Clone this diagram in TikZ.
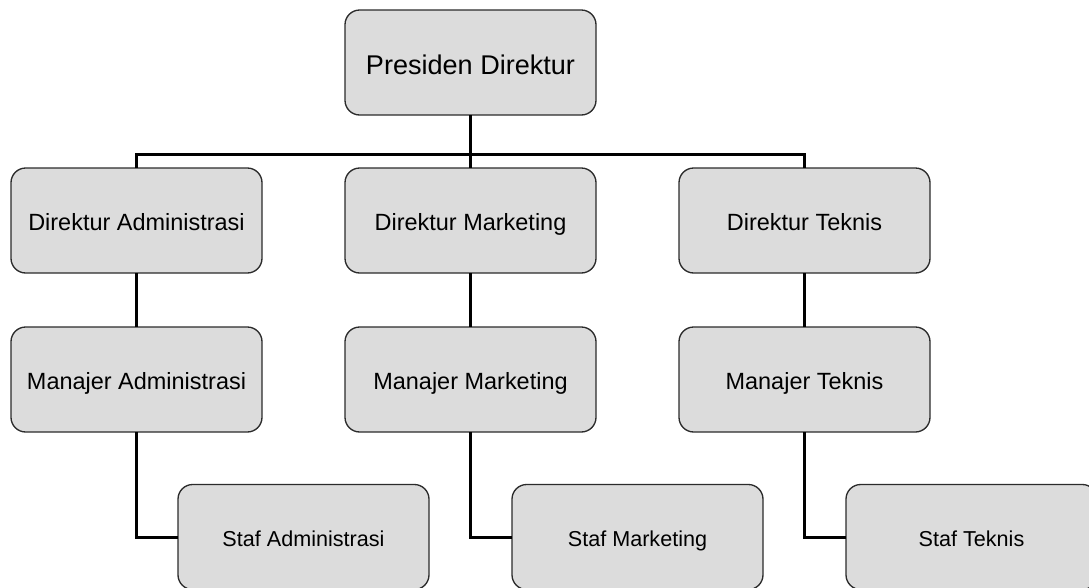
\documentclass[tikz,border=0pt]{standalone}
\usepackage{fontspec}
\setmainfont{Liberation Sans}
\definecolor{boxfill}{HTML}{DCDCDC}
\definecolor{boxline}{HTML}{2B2B2B}
\begin{document}
\begin{tikzpicture}[x=0.75pt,y=-0.75pt,
  orgbox/.style={draw=boxline,fill=boxfill,line width=1pt,rounded corners=11pt,
    minimum width=188.25pt,minimum height=78.75pt,inner sep=0pt,outer sep=0pt,
    text height=15pt,text depth=0pt,
    font=\fontsize{17.6}{20}\selectfont},
  staffbox/.style={orgbox,text height=13.8pt,font=\fontsize{16.2}{19}\selectfont},
  topbox/.style={orgbox,text height=17.5pt,font=\fontsize{20.3}{24}\selectfont},
  conn/.style={line width=2.25pt,black}]
\useasboundingbox (0,0) rectangle (1089,587);
\clip (0,0) rectangle (1089,587);
% boxes
\node[topbox] (pd) at (470.5,62.5) {Presiden Direktur};
\node[orgbox] (dl) at (136.5,220.5) {Direktur Administrasi};
\node[orgbox] (dm) at (470.5,220.5) {Direktur Marketing};
\node[orgbox] (dr) at (804.5,220.5) {Direktur Teknis};
\node[orgbox] (ml) at (136.5,379.5) {Manajer Administrasi};
\node[orgbox] (mm) at (470.5,379.5) {Manajer Marketing};
\node[orgbox] (mr) at (804.5,379.5) {Manajer Teknis};
\node[staffbox] (sl) at (303.5,537) {Staf Administrasi};
\node[staffbox] (sm) at (637.5,537) {Staf Marketing};
\node[staffbox] (sr) at (971.5,537) {Staf Teknis};
\coordinate (bar) at (470.5,154);
% connectors
\draw[conn] (pd.south) -- (dm.north);
\draw[conn] (dl.north) |- (bar) -| (dr.north);
\draw[conn] (dl.south) -- (ml.north);
\draw[conn] (dm.south) -- (mm.north);
\draw[conn] (dr.south) -- (mr.north);
\draw[conn] (ml.south) |- (sl.west);
\draw[conn] (mm.south) |- (sm.west);
\draw[conn] (mr.south) |- (sr.west);
\end{tikzpicture}
\end{document}
